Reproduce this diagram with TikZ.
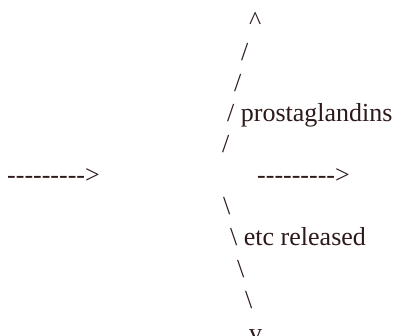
\documentclass[tikz,border=0pt]{standalone}
\usepackage{fontspec}
\setmainfont{Liberation Serif}
\definecolor{ink}{RGB}{45,25,25}
\newcommand{\dasharrowtext}{-{}-{}-{}-{}-{}-{}-{}-{}-{}>}
\begin{document}
\begin{tikzpicture}[x=1pt,y=1pt,
  t/.style={anchor=base west, inner sep=0pt, text=ink, font=\fontsize{26}{31}\selectfont}]
\useasboundingbox (0,0) rectangle (398,-336);
\node[t] (l1)  at (249,-30)  {\textasciicircum};
\node[t] (l2)  at (241,-61)  {/};
\node[t] (l3)  at (234,-92)  {/};
\node[t] (l4)  at (227,-122) {/ prostaglandins};
\node[t] (l5)  at (222,-153) {/};
\node[t] (l6a) at (7,-184)   {\dasharrowtext};
\node[t] (l6b) at (257,-184) {\dasharrowtext};
\node[t] (l7)  at (223,-215) {\textbackslash};
\node[t] (l8)  at (230,-246) {\textbackslash{} etc released};
\node[t] (l9)  at (237,-277) {\textbackslash};
\node[t] (l10) at (245,-308) {\textbackslash};
\node[t] (l11) at (249,-341) {v};
\end{tikzpicture}
\end{document}
